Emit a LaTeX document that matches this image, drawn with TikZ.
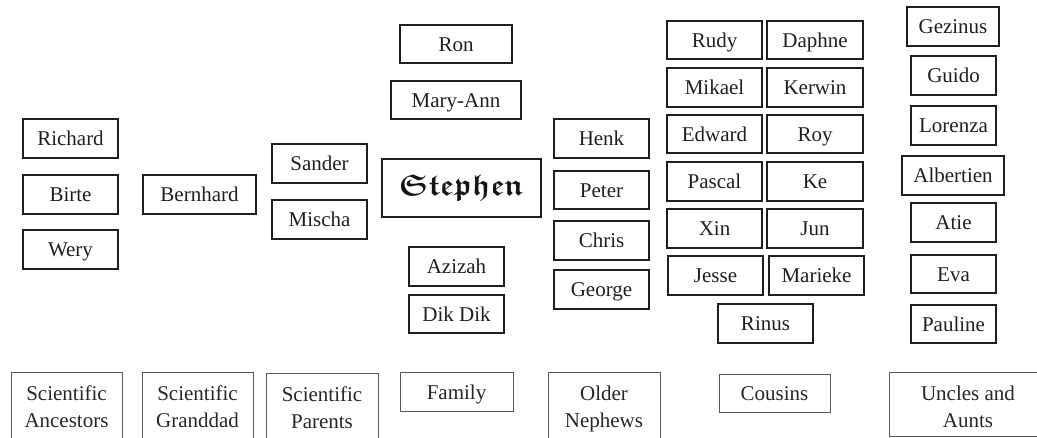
\documentclass[tikz,border=0pt]{standalone}
\usepackage{amssymb}
\usepackage{fontspec}
\setmainfont{Liberation Serif}
\newcommand{\twolines}[2]{\begin{tabular}{@{}c@{}}#1\\#2\end{tabular}}
\begin{document}
\begin{tikzpicture}[x=1pt,y=-1pt,
  namebox/.style={draw=black!88, line width=1.6pt, inner sep=0pt, minimum height=39pt,
    text height=16pt, text depth=1pt, font=\fontsize{21}{27}\selectfont, text=black!88},
  catbox/.style={draw=black!65, line width=0.9pt, inner sep=0pt, minimum width=112pt,
    font=\fontsize{21}{27}\selectfont, text=black!85},
  onecat/.style={catbox, text height=16pt, text depth=0pt},
  w95/.style={minimum width=95pt}]
\useasboundingbox (0,0) rectangle (1037,438);
\clip (0,0) rectangle (1037,438);
% scientific ancestors
\node[namebox,w95] (richard) at (70.5,138.5) {Richard};
\node[namebox,w95] (birte) at (70.5,194.5) {Birte};
\node[namebox,w95] (wery) at (70.5,249.5) {Wery};
% granddad
\node[namebox,minimum width=113pt] (bernhard) at (199.5,194.5) {Bernhard};
% parents
\node[namebox,w95] (sander) at (319.5,163.5) {Sander};
\node[namebox,w95] (mischa) at (319.5,219.5) {Mischa};
% family
\node[namebox,minimum width=112pt,minimum height=38pt] (ron) at (456,44) {Ron};
\node[namebox,minimum width=130pt,minimum height=38pt] (maryann) at (456,100) {Mary-Ann};
\node[draw=black!88, line width=1.6pt, inner sep=0pt, minimum width=159pt, minimum height=58pt,
  text height=20pt, text depth=5pt, text=black!92, font=\fontsize{30}{30}\selectfont\boldmath] (stephen) at (461.5,188) {$\mathfrak{Stephen}$};
\node[namebox,w95] (azizah) at (456.5,266.5) {Azizah};
\node[namebox,w95,minimum height=38pt] (dikdik) at (456.5,314) {Dik Dik};
% older nephews
\node[namebox,w95] (henk) at (601.5,138.5) {Henk};
\node[namebox,w95,minimum height=38pt] (peter) at (601.5,190) {Peter};
\node[namebox,w95] (chris) at (601.5,240.5) {Chris};
\node[namebox,w95] (george) at (601.5,289.5) {George};
% cousins
\node[namebox,w95,minimum height=38pt] (rudy) at (714.5,40) {Rudy};
\node[namebox,minimum width=96pt,minimum height=38pt] (daphne) at (815,40) {Daphne};
\node[namebox,w95] (mikael) at (714.5,87.5) {Mikael};
\node[namebox,minimum width=96pt] (kerwin) at (815,87.5) {Kerwin};
\node[namebox,w95,minimum height=38pt] (edward) at (714.5,134) {Edward};
\node[namebox,minimum width=96pt,minimum height=38pt] (roy) at (815,134) {Roy};
\node[namebox,w95] (pascal) at (714.5,181.5) {Pascal};
\node[namebox,minimum width=96pt] (ke) at (815,181.5) {Ke};
\node[namebox,w95] (xin) at (714.5,228.5) {Xin};
\node[namebox,minimum width=96pt] (jun) at (815,228.5) {Jun};
\node[namebox,w95] (jesse) at (715.5,275.5) {Jesse};
\node[namebox,w95] (marieke) at (816.5,275.5) {Marieke};
\node[namebox,w95] (rinus) at (765.5,323.5) {Rinus};
% uncles and aunts
\node[namebox,minimum width=92pt] (gezinus) at (953,26.5) {Gezinus};
\node[namebox,minimum width=85pt] (guido) at (953.5,75.5) {Guido};
\node[namebox,minimum width=85pt] (lorenza) at (953.5,125.5) {Lorenza};
\node[namebox,minimum width=102pt] (albertien) at (953,175.5) {Albertien};
\node[namebox,minimum width=85pt] (atie) at (953.5,222.5) {Atie};
\node[namebox,minimum width=85pt,minimum height=38pt] (eva) at (953.5,274) {Eva};
\node[namebox,minimum width=85pt,minimum height=38pt] (pauline) at (953.5,324) {Pauline};
% category labels
\node[catbox,minimum width=111pt,minimum height=74pt] (catanc) at (66.5,409) {\twolines{Scientific}{Ancestors}};
\node[catbox,minimum width=111pt,minimum height=74pt] (catgrand) at (197.5,409) {\twolines{Scientific}{Granddad}};
\node[catbox,minimum height=73pt] (catparents) at (322,409.5) {\twolines{Scientific}{Parents}};
\node[onecat,minimum width=113pt,minimum height=39pt] (catfamily) at (456.5,391.5) {Family};
\node[catbox,minimum height=74pt] (catnephews) at (604,409) {\twolines{Older}{Nephews}};
\node[onecat,minimum width=111pt,minimum height=38pt] (catcousins) at (774.5,393) {Cousins};
\node[catbox,minimum width=158pt,minimum height=64.5pt] (catuncles) at (968,404.25) {\twolines{\rule{0pt}{28.4pt}Uncles and}{Aunts}};
\end{tikzpicture}
\end{document}
